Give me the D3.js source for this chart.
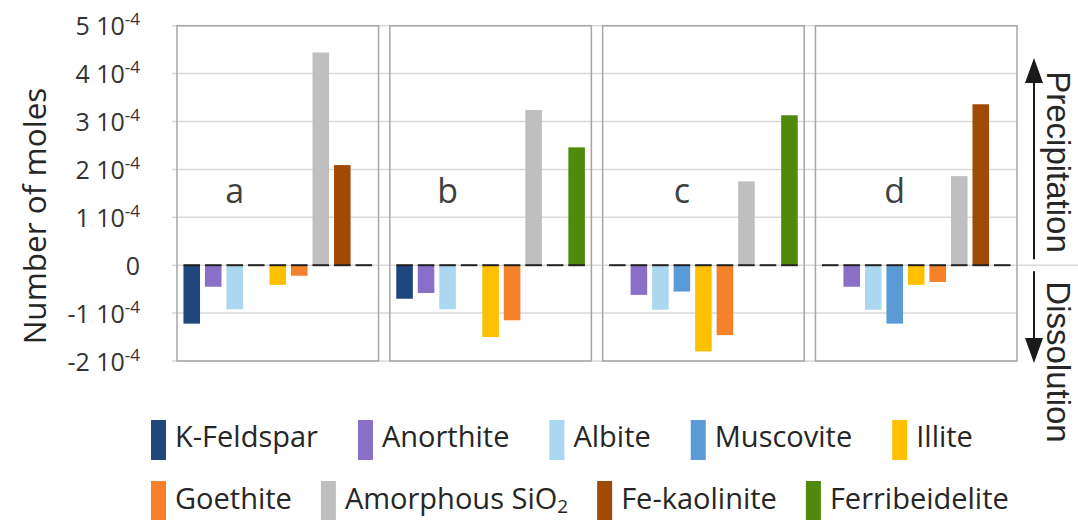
<!DOCTYPE html>
<html>
<head>
<meta charset="utf-8">
<script src="https://cdn.jsdelivr.net/npm/d3@7"></script>
<style>
  html, body { margin: 0; padding: 0; background: #fff; }
  svg { display: block; }
</style>
</head>
<body>
<svg id="chart" width="1078" height="520"></svg>
<script>
// Minerals, in bar order within each panel
const minerals = ["K-Feldspar", "Anorthite", "Albite", "Muscovite", "Illite",
                  "Goethite", "Amorphous SiO2", "Fe-kaolinite", "Ferribeidelite"];
const mineralColors = ["#1f477d", "#8a6fc9", "#abd8f0", "#5b9bd5", "#ffc000",
                       "#f5822a", "#bfbfbf", "#a04a04", "#4f8a0c"];

// Scenario panels
const panels = ["a", "b", "c", "d"];

// Moles precipitated (+) or dissolved (-), in units of 10^-4
const molesA = [-1.22, -0.45, -0.92, 0, -0.41, -0.22, 4.44, 2.09, 0];
const molesB = [-0.70, -0.58, -0.92, 0, -1.50, -1.15, 3.24, 0, 2.46];
const molesC = [0, -0.62, -0.93, -0.55, -1.80, -1.46, 1.75, 0, 3.13];
const molesD = [0, -0.45, -0.93, -1.22, -0.41, -0.35, 1.86, 3.36, 0];
const panelValues = [molesA, molesB, molesC, molesD];

// Axis ticks (mantissa of the 10^-4 scale)
const tickValues = [-2, -1, 0, 1, 2, 3, 4, 5];
const tickExponent = "-4";

// Panel letter sits over this bar slot
const letterSlot = ["Albite", "Albite", "Muscovite", "Muscovite"];

const svg = d3.select("#chart");
const mainFont = "'Open Sans', 'Noto Sans', sans-serif";
const sideFont = "'Liberation Sans', Arial, sans-serif";

const y = d3.scaleLinear().domain([-2, 5]).range([361, 25.7]);
const xPanel = d3.scaleBand().domain(panels).range([177, 1017]).paddingInner(0.053);
const xBar = d3.scaleBand().domain(minerals).range([0, xPanel.bandwidth()])
  .paddingInner(0.23).paddingOuter(0.3);

// Horizontal gridlines
svg.append("g").selectAll("line").data(tickValues).join("line")
  .attr("x1", 172).attr("x2", d => d === 0 ? 1078 : xPanel.range()[1])
  .attr("y1", d => y(d)).attr("y2", d => y(d))
  .attr("stroke", "#d9d9d9").attr("stroke-width", 1.5);

// Tick labels with superscript exponent
const ticks = svg.append("g").selectAll("text").data(tickValues).join("text")
  .attr("x", 140).attr("y", d => y(d) + 9.5)
  .attr("text-anchor", "end")
  .attr("font-family", mainFont).attr("font-size", 25).attr("fill", "#333");
ticks.each(function(d) {
  const t = d3.select(this);
  if (d === 0) { t.text("0"); return; }
  t.append("tspan").text(d + " 10");
  t.append("tspan").attr("dy", -10).attr("font-size", 17).text(tickExponent);
});

// Y axis title
svg.append("text")
  .attr("transform", "translate(46,216) rotate(-90)")
  .attr("text-anchor", "middle")
  .attr("font-family", mainFont).attr("font-size", 31.5).attr("fill", "#262626")
  .text("Number of moles");

// Panels
panels.forEach((p, pi) => {
  const g = svg.append("g").attr("transform", `translate(${xPanel(p)},0)`);
  const vals = panelValues[pi];

  g.append("rect")
    .attr("x", 0).attr("y", y(5))
    .attr("width", xPanel.bandwidth()).attr("height", y(-2) - y(5))
    .attr("fill", "none").attr("stroke", "#a6a6a6").attr("stroke-width", 1.5);

  g.selectAll("rect.bar").data(vals).join("rect")
    .attr("class", "bar")
    .attr("x", (d, i) => xBar(minerals[i]))
    .attr("width", xBar.bandwidth())
    .attr("y", d => y(Math.max(0, d)))
    .attr("height", d => Math.abs(y(d) - y(0)))
    .attr("fill", (d, i) => mineralColors[i]);

  // Zero baseline drawn under each bar slot
  g.selectAll("line.zero").data(vals).join("line")
    .attr("class", "zero")
    .attr("x1", (d, i) => xBar(minerals[i]))
    .attr("x2", (d, i) => xBar(minerals[i]) + xBar.bandwidth())
    .attr("y1", y(0)).attr("y2", y(0))
    .attr("stroke", "#222").attr("stroke-width", 2);

  g.append("text")
    .attr("x", xBar(letterSlot[pi]) + xBar.bandwidth() / 2)
    .attr("y", y(1.3))
    .attr("text-anchor", "middle")
    .attr("font-family", mainFont).attr("font-size", 34).attr("fill", "#404040")
    .text(p);
});

// Direction arrows and captions on the right
const arrowX = 1034;
const side = svg.append("g").attr("stroke", "#1a1a1a").attr("fill", "#1a1a1a");
side.append("line").attr("x1", arrowX).attr("x2", arrowX)
  .attr("y1", y(0) - 6).attr("y2", 80).attr("stroke-width", 2);
side.append("path").attr("stroke", "none")
  .attr("d", `M${arrowX},58 L${arrowX + 9},83 L${arrowX - 9},83 Z`);
side.append("line").attr("x1", arrowX).attr("x2", arrowX)
  .attr("y1", y(0) + 6).attr("y2", 342).attr("stroke-width", 2);
side.append("path").attr("stroke", "none")
  .attr("d", `M${arrowX},363 L${arrowX + 9},338 L${arrowX - 9},338 Z`);

svg.append("text")
  .attr("transform", "translate(1047,162) rotate(90)")
  .attr("text-anchor", "middle")
  .attr("font-family", sideFont).attr("font-size", 33).attr("fill", "#262626")
  .text("Precipitation");
svg.append("text")
  .attr("transform", "translate(1047,362) rotate(90)")
  .attr("text-anchor", "middle")
  .attr("font-family", sideFont).attr("font-size", 33).attr("fill", "#262626")
  .text("Dissolution");

// Legend, two flowing rows
const legendRows = [
  { items: [0, 1, 2, 3, 4], top: 420, baseline: 447, gap: 40 },
  { items: [5, 6, 7, 8], top: 481, baseline: 509, gap: 29 }
];
const legend = svg.append("g");
legendRows.forEach(row => {
  let x = 151;
  row.items.forEach(i => {
    legend.append("rect")
      .attr("x", x).attr("y", row.top).attr("width", 15).attr("height", 40)
      .attr("fill", mineralColors[i]);
    const t = legend.append("text")
      .attr("x", x + 24).attr("y", row.baseline)
      .attr("font-family", mainFont).attr("font-size", 29).attr("fill", "#262626");
    const name = minerals[i];
    if (name.endsWith("SiO2")) {
      t.append("tspan").text(name.slice(0, -1));
      t.append("tspan").attr("dy", 4).attr("font-size", 19).text("2");
    } else {
      t.text(name);
    }
    x = x + 24 + t.node().getComputedTextLength() + row.gap;
  });
});
</script>
</body>
</html>
